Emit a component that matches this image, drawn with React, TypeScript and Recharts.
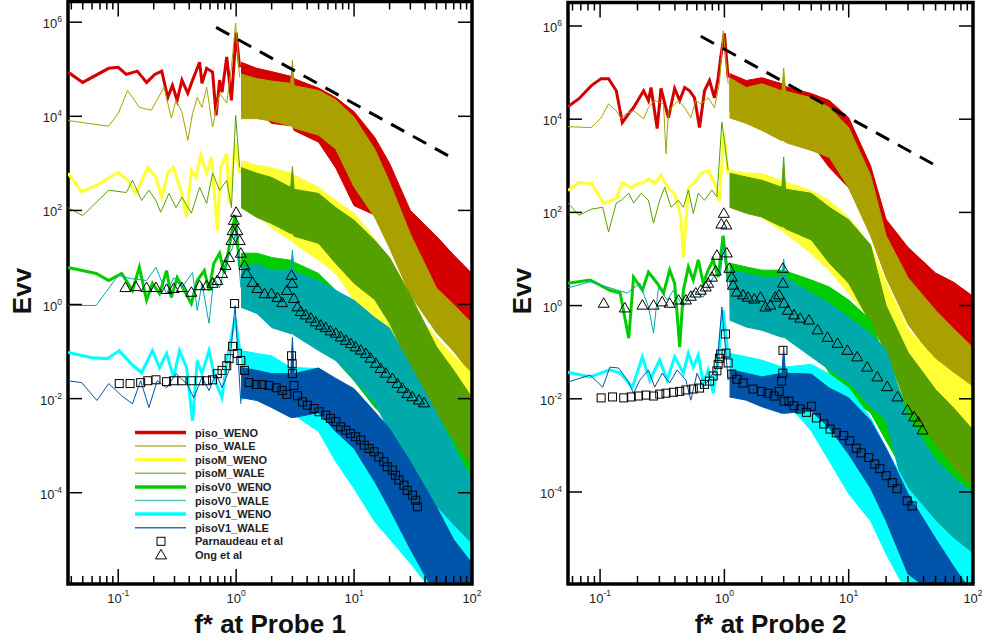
import React from 'react';
import { ComposedChart, XAxis, YAxis, Line, Area, Scatter, ReferenceArea, Legend } from 'recharts';

const FONT = "'Liberation Sans', Arial, Helvetica, sans-serif";

// ---------------- categories / labels ----------------
const seriesNames = ['piso_WENO', 'piso_WALE', 'pisoM_WENO', 'pisoM_WALE', 'pisoV0_WENO', 'pisoV0_WALE', 'pisoV1_WENO', 'pisoV1_WALE'];
const markerNames = ['Parnaudeau et al', 'Ong et al'];
const xTitles = ['f* at Probe 1', 'f* at Probe 2'];
const yTitle = 'Evv';
const xTickValues = [0.04, 0.05, 0.06, 0.07, 0.08, 0.09, 0.1, 0.2, 0.3, 0.4, 0.5, 0.6, 0.7, 0.8, 0.9, 1, 2, 3, 4, 5, 6, 7, 8, 9, 10, 20, 30, 40, 50, 60, 70, 80, 90, 100];
const yTickValues = [1e-4, 1e-2, 1, 1e2, 1e4, 1e6];
// frequencies at which the dense high-frequency envelopes were read
const bandFreq = [1.1, 1.5, 2, 2.9, 3, 3.1, 5, 7, 10, 15, 20, 30, 50, 70, 100];

// ---------------- styles ----------------
const seriesColors = ['#d40000', '#aaa000', '#ffff33', '#55a000', '#00cc00', '#00aaaa', '#00ffff', '#0055aa'];
const seriesWidths = [3, 1, 3, 1, 3, 1, 3, 1];
const legendColors = ['#d40000', '#bdb43a', '#ffff33', '#86c24e', '#00cc00', '#5cc6c6', '#00ffff', '#2f6fb8'];

type Pair = [number, number];
// all values below: [f*, log10(Evv)]

// ================= Probe 1 =================
const p1PisoWenoLow: Pair[] = [[0.0375, 4.94], [0.05, 4.72], [0.083, 5.02], [0.1, 5.04], [0.117, 4.89], [0.145, 4.96], [0.174, 4.72], [0.204, 4.89], [0.234, 4.96], [0.263, 4.4], [0.288, 4.66], [0.316, 4.34], [0.347, 4.77], [0.389, 4.49], [0.427, 4.77], [0.49, 5.15], [0.513, 4.7], [0.562, 5.02], [0.631, 4.94], [0.676, 4.02], [0.724, 4.77], [0.759, 4.51], [0.832, 5.26], [0.912, 4.34], [1.0, 5.78], [1.07, 5.04]];
const p1PisoWaleLow: Pair[] = [[0.0375, 3.91], [0.083, 3.79], [0.1, 4.06], [0.12, 4.55], [0.151, 4.19], [0.191, 4.13], [0.245, 4.62], [0.282, 3.96], [0.309, 4.34], [0.347, 4.09], [0.389, 3.49], [0.427, 4.06], [0.468, 4.4], [0.513, 4.19], [0.562, 4.62], [0.631, 3.77], [0.724, 4.49], [0.832, 4.28], [0.912, 5.04], [0.99, 5.98], [1.07, 4.83]];
const p1PisoMWenoLow: Pair[] = [[0.0375, 2.79], [0.049, 2.4], [0.065, 2.53], [0.1, 2.81], [0.12, 2.64], [0.141, 2.36], [0.178, 2.91], [0.209, 2.7], [0.234, 2.28], [0.263, 2.79], [0.295, 2.91], [0.339, 2.43], [0.38, 1.85], [0.417, 2.85], [0.457, 2.7], [0.501, 3.17], [0.562, 2.79], [0.617, 3.13], [0.692, 1.57], [0.741, 2.91], [0.832, 3.21], [0.871, 2.15], [0.98, 3.43], [1.07, 2.79]];
const p1PisoMWaleLow: Pair[] = [[0.0375, 2.06], [0.05, 1.89], [0.083, 2.43], [0.117, 2.38], [0.132, 2.64], [0.158, 2.21], [0.182, 2.43], [0.209, 2.21], [0.229, 1.96], [0.269, 2.36], [0.309, 2.06], [0.347, 2.28], [0.417, 1.94], [0.49, 2.49], [0.562, 2.15], [0.631, 2.79], [0.724, 2.43], [0.832, 2.64], [0.912, 2.06], [0.99, 4.02], [1.07, 2.91]];
const p1PisoV0WenoLow: Pair[] = [[0.0375, 0.79], [0.065, 0.66], [0.083, 0.51], [0.107, 0.66], [0.132, 0.3], [0.151, 0.79], [0.174, 0.09], [0.195, 0.45], [0.224, 0.23], [0.257, 0.72], [0.282, 0.15], [0.316, 0.57], [0.363, 0.3], [0.417, 0.02], [0.468, 0.51], [0.537, 0.72], [0.589, 0.3], [0.646, 0.87], [0.724, 1.09], [0.794, 0.66], [0.871, 1.21], [0.98, 1.9], [1.07, 0.79]];
const p1PisoV0WaleLow: Pair[] = [[0.0375, -0.02], [0.065, -0.02], [0.1, 0.62], [0.129, 0.55], [0.174, 0.51], [0.209, 0.79], [0.257, 0.23], [0.295, 0.57], [0.347, 0.36], [0.427, 0.68], [0.468, -0.13], [0.513, 0.45], [0.589, -0.4], [0.646, 0.57], [0.724, 0.36], [0.832, 0.94], [0.933, 1.21], [1.0, 1.6], [1.096, 0.36]];
const p1PisoV1WenoLow: Pair[] = [[0.0375, -1.02], [0.06, -1.13], [0.081, -1.15], [0.102, -0.98], [0.129, -1.26], [0.158, -1.45], [0.195, -0.98], [0.224, -1.34], [0.257, -1.04], [0.295, -1.55], [0.331, -0.98], [0.38, -1.34], [0.427, -2.47], [0.468, -1.19], [0.513, -1.47], [0.589, -0.98], [0.676, -1.68], [0.759, -1.98], [0.832, -1.19], [0.98, -0.28], [1.096, -1.13]];
const p1PisoV1WaleLow: Pair[] = [[0.0375, -1.62], [0.049, -1.66], [0.066, -2.04], [0.083, -1.68], [0.107, -1.94], [0.132, -2.11], [0.155, -1.62], [0.182, -2.19], [0.214, -1.62], [0.257, -1.77], [0.309, -1.47], [0.38, -1.68], [0.437, -1.98], [0.513, -1.55], [0.589, -1.83], [0.676, -1.47], [0.759, -1.77], [0.871, -1.4], [0.98, -0.02], [1.096, -2.11]];

// envelopes (log10 lower / upper) on bandFreq
const p1PisoWenoHi = [5.15, 5.02, 4.95, 4.85, 4.9, 4.8, 4.6, 4.4, 4.1, 3.55, 3.0, 2.0, 1.45, 1.05, 0.66];
const p1PisoWenoLo = [4.1, 4.1, 3.85, 3.8, 3.8, 3.7, 3.45, 2.9, 2.1, 1.9, 1.5, 0.8, 0.1, -0.2, -0.5];
const p1PisoWaleHi = [4.9, 4.8, 4.75, 4.7, 5.19, 4.65, 4.55, 4.35, 3.98, 3.3, 2.6, 1.5, 0.35, 0.0, -0.4];
const p1PisoWaleLo = [3.95, 3.95, 3.9, 3.8, 3.8, 3.75, 3.6, 3.3, 2.5, 1.85, 1.2, 0.2, -0.6, -1.0, -1.5];
const p1PisoMWenoHi = [3.06, 2.96, 2.91, 2.79, 2.79, 2.75, 2.49, 2.21, 1.94, 1.4, 0.9, -0.05, -0.7, -1.1, -1.46];
const p1PisoMWenoLo = [2.06, 1.94, 1.64, 1.36, 1.36, 1.3, 0.94, 0.66, 0.1, -0.35, -0.6, -1.2, -1.6, -1.8, -2.0];
const p1PisoMWaleHi = [2.91, 2.79, 2.7, 2.49, 2.93, 2.45, 2.36, 2.06, 1.79, 1.36, 1.0, 0.2, -0.9, -1.4, -1.98];
const p1PisoMWaleLo = [2.06, 1.85, 1.72, 1.51, 1.51, 1.45, 1.3, 0.87, 0.45, 0.1, -0.4, -1.34, -2.47, -3.0, -3.5];
const p1PisoV0WenoHi = [1.09, 1.09, 1.0, 0.94, 0.94, 0.9, 0.66, 0.3, -0.06, -0.49, -0.77, -1.62, -2.3, -2.9, -3.47];
const p1PisoV0WenoLo = [0.23, 0.09, -0.17, -0.19, -0.19, -0.25, -0.77, -1.19, -1.62, -2.19, -2.47, -3.5, -3.6, -3.7, -3.8];
const p1PisoV0WaleHi = [0.79, 0.87, 0.72, 0.72, 1.16, 0.7, 0.51, 0.3, 0.09, -0.28, -0.5, -1.3, -2.3, -3.0, -3.74];
const p1PisoV0WaleLo = [-0.06, -0.19, -0.49, -0.62, -0.62, -0.65, -0.98, -1.19, -1.6, -2.1, -2.7, -4.0, -4.6, -5.0, -5.45];
const p1PisoV1WenoHi = [-0.98, -1.04, -1.09, -1.34, -1.34, -1.34, -1.36, -1.7, -2.21, -2.64, -3.06, -3.5, -4.3, -4.7, -5.1];
const p1PisoV1WenoLo = [-2.04, -1.83, -1.98, -2.32, -2.32, -2.35, -2.7, -3.34, -3.91, -4.62, -4.98, -5.5, -6.2, -6.2, -6.2];
const p1PisoV1WaleHi = [-1.34, -1.4, -1.47, -1.47, -0.7, -1.47, -1.35, -1.57, -1.79, -2.28, -2.64, -3.34, -4.3, -5.0, -5.5];
const p1PisoV1WaleLo = [-1.98, -2.04, -2.19, -2.4, -2.4, -2.4, -2.3, -2.7, -3.06, -3.77, -4.34, -5.2, -6.2, -6.2, -6.2];

const p1Parnaudeau: Pair[] = [[0.102, -1.68], [0.126, -1.68], [0.155, -1.66], [0.178, -1.62], [0.209, -1.6], [0.257, -1.64], [0.295, -1.62], [0.347, -1.62], [0.417, -1.62], [0.49, -1.62], [0.562, -1.62], [0.631, -1.6], [0.692, -1.47], [0.759, -1.4], [0.832, -1.3], [0.871, -1.15], [0.933, -0.89], [0.97, 0.02], [1.023, -1.04], [1.096, -1.19], [1.175, -1.4], [1.288, -1.66], [1.479, -1.7], [1.66, -1.7], [1.905, -1.72], [2.188, -1.77], [2.455, -1.83], [2.692, -1.91], [2.951, -1.09], [2.985, -1.26], [3.0, -1.47], [3.09, -1.72], [3.311, -1.94], [3.65, -2.07], [4.02, -2.14], [4.57, -2.21], [5.05, -2.28], [5.75, -2.35], [6.31, -2.42], [7.0, -2.49], [7.71, -2.6], [8.51, -2.67], [9.33, -2.74], [10.3, -2.81], [11.4, -2.88], [12.2, -2.99], [13.4, -3.06], [14.8, -3.13], [16.2, -3.24], [17.9, -3.34], [19.1, -3.45], [21.1, -3.52], [22.5, -3.63], [24.0, -3.73], [26.5, -3.84], [28.2, -3.95], [31.2, -4.05], [33.3, -4.16], [34.4, -4.3]];
const p1Ong: Pair[] = [[0.115, 0.36], [0.141, 0.38], [0.174, 0.36], [0.209, 0.36], [0.257, 0.32], [0.295, 0.34], [0.347, 0.36], [0.417, 0.26], [0.49, 0.4], [0.562, 0.4], [0.631, 0.45], [0.692, 0.51], [0.759, 0.66], [0.813, 0.83], [0.871, 1.0], [0.912, 1.36], [0.933, 1.57], [0.955, 1.79], [1.0, 1.96], [1.023, 1.57], [1.072, 1.36], [1.096, 1.09], [1.175, 0.83], [1.23, 0.66], [1.38, 0.47], [1.514, 0.34], [1.738, 0.23], [1.995, 0.23], [2.239, 0.15], [2.455, 0.04], [2.692, 0.3], [2.951, 0.62], [2.985, 0.45], [3.09, 0.13], [3.31, -0.05], [3.53, -0.15], [3.89, -0.22], [4.3, -0.29], [4.73, -0.37], [5.22, -0.44], [5.75, -0.49], [6.31, -0.56], [7.0, -0.61], [7.71, -0.69], [8.51, -0.76], [9.38, -0.83], [10.3, -0.9], [11.4, -0.97], [12.6, -1.04], [13.8, -1.14], [15.3, -1.25], [16.8, -1.36], [18.6, -1.46], [21.1, -1.57], [23.3, -1.68], [25.7, -1.78], [28.3, -1.89], [31.2, -1.96], [35.5, -2.03], [39.2, -2.09]];
const p1Slope: Pair[] = [[0.676, 5.89], [72, 3.08]];

// ================= Probe 2 =================
const p2PisoWenoLow: Pair[] = [[0.0552, 4.27], [0.0676, 4.44], [0.0851, 4.72], [0.102, 4.87], [0.117, 4.87], [0.135, 4.61], [0.151, 3.93], [0.17, 4.12], [0.186, 4.25], [0.224, 4.61], [0.245, 4.4], [0.257, 4.68], [0.288, 3.8], [0.309, 4.66], [0.339, 4.23], [0.355, 4.03], [0.398, 4.66], [0.437, 4.4], [0.479, 4.68], [0.525, 4.61], [0.575, 4.46], [0.631, 3.82], [0.692, 4.61], [0.759, 4.83], [0.832, 4.46], [0.891, 4.89], [0.933, 5.32], [1.0, 5.84], [1.072, 4.89]];
const p2PisoWaleLow: Pair[] = [[0.0552, 3.84], [0.0851, 3.82], [0.102, 4.03], [0.117, 4.33], [0.135, 4.18], [0.148, 4.01], [0.162, 4.12], [0.186, 4.18], [0.224, 4.01], [0.245, 4.25], [0.275, 4.4], [0.324, 4.33], [0.339, 3.26], [0.355, 4.18], [0.427, 4.4], [0.479, 4.25], [0.537, 4.03], [0.589, 4.4], [0.646, 4.33], [0.741, 4.46], [0.832, 4.25], [0.912, 4.76], [0.98, 5.9], [1.072, 4.76]];
const p2PisoMWenoLow: Pair[] = [[0.0552, 2.47], [0.0676, 2.64], [0.0851, 2.62], [0.107, 2.19], [0.135, 2.3], [0.151, 2.64], [0.178, 2.53], [0.204, 2.62], [0.224, 2.64], [0.245, 2.72], [0.275, 2.62], [0.309, 2.79], [0.355, 2.51], [0.398, 2.4], [0.447, 1.89], [0.468, 1.03], [0.513, 2.53], [0.575, 2.64], [0.646, 2.83], [0.741, 2.9], [0.832, 2.64], [0.912, 2.25], [0.99, 3.69], [1.072, 2.83]];
const p2PisoMWaleLow: Pair[] = [[0.0552, 2.2], [0.0676, 1.94], [0.0851, 2.07], [0.105, 2.11], [0.117, 1.58], [0.135, 2.2], [0.148, 2.26], [0.17, 2.41], [0.186, 2.2], [0.214, 2.41], [0.245, 2.26], [0.269, 1.77], [0.302, 2.26], [0.331, 2.54], [0.372, 2.11], [0.427, 2.26], [0.468, 2.11], [0.513, 2.48], [0.562, 1.98], [0.617, 2.41], [0.692, 2.26], [0.794, 2.48], [0.871, 2.33], [0.955, 3.94], [1.072, 2.91]];
const p2PisoV0WenoLow: Pair[] = [[0.0552, 0.48], [0.0832, 0.55], [0.12, 0.33], [0.145, 0.27], [0.17, -0.7], [0.186, 0.61], [0.219, 0.33], [0.245, 0.72], [0.288, 0.48], [0.324, 0.27], [0.363, 0.76], [0.398, 0.48], [0.437, -0.89], [0.468, 0.33], [0.513, 0.83], [0.562, 0.55], [0.617, 0.98], [0.676, 0.48], [0.741, 0.76], [0.813, 0.98], [0.891, 0.61], [0.977, 1.5], [1.072, 0.55]];
const p2PisoV0WaleLow: Pair[] = [[0.0552, 0.38], [0.0832, 0.51], [0.12, 0.38], [0.166, 0.27], [0.209, 0.48], [0.245, -0.03], [0.269, -0.59], [0.295, 0.4], [0.347, 0.12], [0.389, 0.33], [0.468, -0.03], [0.562, 0.33], [0.676, 0.18], [0.813, 0.61], [0.933, 0.69], [0.977, 1.34], [1.072, 0.33]];
const p2PisoV1WenoLow: Pair[] = [[0.0552, -1.43], [0.0832, -1.53], [0.12, -1.38], [0.145, -1.45], [0.182, -1.75], [0.219, -1.1], [0.251, -1.6], [0.302, -1.17], [0.347, -1.6], [0.398, -1.1], [0.468, -1.45], [0.513, -1.02], [0.562, -1.32], [0.617, -1.06], [0.676, -1.66], [0.741, -1.38], [0.813, -1.88], [0.891, -1.17], [0.977, -0.1], [1.072, -1.1]];
const p2PisoV1WaleLow: Pair[] = [[0.0552, -1.64], [0.0832, -1.49], [0.105, -1.75], [0.12, -1.32], [0.141, -1.34], [0.166, -1.6], [0.186, -1.88], [0.209, -1.6], [0.245, -1.38], [0.275, -1.75], [0.316, -1.45], [0.363, -1.66], [0.417, -1.38], [0.49, -1.6], [0.537, -2.03], [0.603, -1.45], [0.676, -1.75], [0.776, -1.53], [0.871, -1.32], [0.955, -0.03], [1.072, -1.6]];

const p2PisoWenoHi = [4.98, 4.83, 4.89, 4.76, 4.8, 4.7, 4.55, 4.4, 4.03, 3.0, 1.85, 1.25, 0.7, 0.5, 0.2];
const p2PisoWenoLo = [4.18, 4.18, 3.91, 3.82, 3.82, 3.8, 3.48, 2.96, 2.53, 1.6, 0.9, 0.4, -0.3, -0.6, -0.95];
const p2PisoWaleHi = [4.89, 4.68, 4.76, 4.61, 5.1, 4.6, 4.46, 4.25, 3.82, 2.8, 1.5, 0.6, -0.1, -0.5, -0.9];
const p2PisoWaleLo = [4.03, 3.91, 3.76, 3.54, 3.54, 3.5, 3.33, 3.18, 2.53, 1.5, 0.6, -0.4, -1.2, -1.6, -1.95];
const p2PisoMWenoHi = [2.9, 2.85, 2.83, 2.68, 2.68, 2.65, 2.47, 2.25, 1.89, 1.3, 0.5, -0.5, -1.15, -1.45, -1.75];
const p2PisoMWenoLo = [2.25, 2.1, 1.89, 1.61, 1.61, 1.55, 1.12, 0.75, 0.26, -0.3, -0.7, -1.4, -2.0, -2.4, -2.7];
const p2PisoMWaleHi = [2.84, 2.76, 2.69, 2.54, 3.19, 2.5, 2.41, 2.11, 1.84, 1.3, 0.0, -1.0, -1.8, -2.2, -2.67];
const p2PisoMWaleLo = [2.11, 1.98, 1.9, 1.69, 1.69, 1.65, 1.41, 0.91, 0.48, -0.38, -1.0, -2.2, -3.2, -3.6, -3.9];
const p2PisoV0WenoHi = [0.91, 0.83, 0.76, 0.76, 0.76, 0.74, 0.55, 0.4, 0.12, -0.31, -1.2, -2.2, -3.0, -3.5, -3.92];
const p2PisoV0WenoLo = [-0.03, -0.16, -0.38, -0.46, -0.46, -0.5, -0.8, -1.45, -1.96, -2.3, -2.9, -3.7, -4.4, -4.7, -5.0];
const p2PisoV0WaleHi = [0.76, 0.69, 0.61, 0.61, 1.0, 0.6, 0.27, 0.05, -0.25, -0.59, -0.95, -2.4, -3.3, -3.7, -4.0];
const p2PisoV0WaleLo = [-0.31, -0.46, -0.53, -0.68, -0.68, -0.7, -1.1, -1.38, -1.66, -2.17, -2.46, -4.3, -4.97, -5.2, -5.33];
const p2PisoV1WenoHi = [-1.02, -1.1, -1.17, -1.32, -1.32, -1.32, -1.26, -1.47, -1.77, -2.41, -3.06, -3.92, -4.62, -5.0, -5.33];
const p2PisoV1WenoLo = [-1.6, -1.75, -1.88, -2.03, -2.03, -2.05, -2.69, -3.34, -4.04, -4.62, -5.33, -6.2, -6.2, -6.2, -6.2];
const p2PisoV1WaleHi = [-1.38, -1.45, -1.53, -1.45, -0.89, -1.45, -1.47, -1.77, -1.98, -2.47, -3.06, -4.04, -5.0, -5.6, -6.2];
const p2PisoV1WaleLo = [-1.96, -2.03, -2.17, -2.31, -2.31, -2.31, -2.26, -2.63, -3.19, -3.92, -4.62, -5.76, -6.2, -6.2, -6.2];

const p2Parnaudeau: Pair[] = [[0.102, -1.98], [0.126, -1.96], [0.155, -1.98], [0.178, -1.96], [0.204, -1.94], [0.234, -1.92], [0.269, -1.94], [0.302, -1.9], [0.339, -1.88], [0.389, -1.86], [0.437, -1.84], [0.49, -1.81], [0.562, -1.79], [0.631, -1.77], [0.692, -1.69], [0.759, -1.62], [0.813, -1.51], [0.871, -1.4], [0.891, -1.26], [0.912, -1.13], [0.933, -1.04], [1.02, -0.61], [1.03, -1.02], [1.072, -1.23], [1.148, -1.47], [1.259, -1.58], [1.413, -1.66], [1.698, -1.79], [1.995, -1.84], [2.239, -1.88], [2.512, -1.94], [2.754, -1.84], [2.884, -1.62], [2.951, -1.45], [2.96, -0.96], [3.02, -2.05], [3.31, -2.05], [3.63, -2.15], [4.07, -2.22], [4.57, -2.29], [5.01, -2.16], [5.5, -2.41], [6.31, -2.54], [7.08, -2.65], [7.94, -2.73], [9.12, -2.79], [10.2, -2.9], [11.5, -3.06], [12.6, -3.16], [14.5, -3.26], [16.2, -3.4], [17.8, -3.5], [20.0, -3.65], [22.4, -3.8], [24.5, -3.93], [29.5, -4.19], [32.4, -4.3]];
const p2Ong: Pair[] = [[0.107, 0.05], [0.158, -0.05], [0.219, 0.01], [0.269, 0.01], [0.316, 0.08], [0.363, 0.05], [0.427, 0.12], [0.49, 0.12], [0.537, 0.2], [0.589, 0.27], [0.646, 0.33], [0.708, 0.4], [0.741, 0.48], [0.794, 0.61], [0.851, 0.74], [0.871, 1.08], [0.945, 1.75], [0.99, 1.98], [1.037, 1.73], [1.047, 1.13], [1.096, 0.8], [1.148, 0.61], [1.175, 0.44], [1.259, 0.29], [1.413, 0.23], [1.549, 0.18], [1.738, 0.14], [1.95, 0.18], [2.138, -0.03], [2.344, 0.01], [2.57, 0.18], [2.754, 0.23], [2.951, 0.8], [2.96, 0.48], [3.02, 0.05], [3.236, -0.1], [3.63, -0.2], [4.07, -0.27], [4.79, -0.31], [5.62, -0.52], [6.76, -0.68], [8.13, -0.81], [9.77, -0.96], [11.7, -1.1], [14.1, -1.32], [17.0, -1.53], [20.4, -1.74], [24.7, -1.96], [29.7, -2.24], [33.6, -2.39], [36.3, -2.5], [39.3, -2.67]];
const p2Slope: Pair[] = [[0.646, 5.78], [53, 2.97]];

// ---------------- helpers ----------------
const toPts = (pairs: Pair[]) => pairs.map(([f, e]) => ({ f, v: Math.pow(10, e) }));

function buildBands(los: number[][], his: number[][]) {
  return bandFreq.map((f, i) => {
    const row: Record<string, any> = { f };
    los.forEach((lo, k) => {
      row['b' + k] = [Math.pow(10, lo[i]), Math.pow(10, his[k][i])];
    });
    return row;
  });
}

type PanelCfg = {
  left: number;
  yAxisWidth: number;
  marginRight: number;
  plotTop: number;
  plotBottom: number;
  plotLeft: number;
  plotRight: number;
  xMin: number;
  yMinExp: number;
  yMaxExp: number;
  title: string;
  low: Pair[][];
  lo: number[][];
  hi: number[][];
  squares: Pair[];
  triangles: Pair[];
  slope: Pair[];
  legend: boolean;
};

const panels: PanelCfg[] = [
  {
    left: 0, yAxisWidth: 68, marginRight: 19, plotTop: 1.5, plotBottom: 584, plotLeft: 68, plotRight: 472,
    xMin: 0.0375, yMinExp: -5.94, yMaxExp: 6.44, title: xTitles[0],
    low: [p1PisoWenoLow, p1PisoWaleLow, p1PisoMWenoLow, p1PisoMWaleLow, p1PisoV0WenoLow, p1PisoV0WaleLow, p1PisoV1WenoLow, p1PisoV1WaleLow],
    lo: [p1PisoWenoLo, p1PisoWaleLo, p1PisoMWenoLo, p1PisoMWaleLo, p1PisoV0WenoLo, p1PisoV0WaleLo, p1PisoV1WenoLo, p1PisoV1WaleLo],
    hi: [p1PisoWenoHi, p1PisoWaleHi, p1PisoMWenoHi, p1PisoMWaleHi, p1PisoV0WenoHi, p1PisoV0WaleHi, p1PisoV1WenoHi, p1PisoV1WaleHi],
    squares: p1Parnaudeau, triangles: p1Ong, slope: p1Slope, legend: true,
  },
  {
    left: 491, yAxisWidth: 77, marginRight: 9, plotTop: 2.5, plotBottom: 584, plotLeft: 77, plotRight: 482,
    xMin: 0.0552, yMinExp: -5.974, yMaxExp: 6.504, title: xTitles[1],
    low: [p2PisoWenoLow, p2PisoWaleLow, p2PisoMWenoLow, p2PisoMWaleLow, p2PisoV0WenoLow, p2PisoV0WaleLow, p2PisoV1WenoLow, p2PisoV1WaleLow],
    lo: [p2PisoWenoLo, p2PisoWaleLo, p2PisoMWenoLo, p2PisoMWaleLo, p2PisoV0WenoLo, p2PisoV0WaleLo, p2PisoV1WenoLo, p2PisoV1WaleLo],
    hi: [p2PisoWenoHi, p2PisoWaleHi, p2PisoMWenoHi, p2PisoMWaleHi, p2PisoV0WenoHi, p2PisoV0WaleHi, p2PisoV1WenoHi, p2PisoV1WaleHi],
    squares: p2Parnaudeau, triangles: p2Ong, slope: p2Slope, legend: false,
  },
];

const SquareShape = (p: any) => (
  <rect x={p.cx - 4} y={p.cy - 4} width={8} height={8} fill="none" stroke="#000" strokeWidth={1} />
);
const TriangleShape = (p: any) => (
  <path d={`M${p.cx},${p.cy - 5.5} L${p.cx + 5.5},${p.cy + 4} L${p.cx - 5.5},${p.cy + 4} Z`} fill="none" stroke="#000" strokeWidth={1} />
);

const renderLegend = () => (
  <svg width={170} height={142} style={{ display: 'block', overflow: 'visible' }}>
    {seriesNames.map((name, i) => {
      const y = 7.5 + 13.6 * i;
      return (
        <g key={name}>
          <line x1={7} x2={58} y1={y} y2={y} stroke={legendColors[i]} strokeWidth={seriesWidths[i] === 3 ? 3.5 : 1.5} />
          <text x={67} y={y + 4} fontFamily={FONT} fontWeight="bold" fontSize={11} fill="#222">{name}</text>
        </g>
      );
    })}
    {markerNames.map((name, j) => {
      const y = 7.5 + 13.6 * (8 + j);
      return (
        <g key={name}>
          {j === 0 ? SquareShape({ cx: 33, cy: y }) : TriangleShape({ cx: 33, cy: y })}
          <text x={67} y={y + 4} fontFamily={FONT} fontWeight="bold" fontSize={11} fill="#222">{name}</text>
        </g>
      );
    })}
  </svg>
);

function Panel({ cfg }: { cfg: PanelCfg }) {
  const rows = buildBands(cfg.lo, cfg.hi);
  const ticks = xTickValues.filter((v) => v >= cfg.xMin * 0.999 && v <= 100.0001);
  const yMin = Math.pow(10, cfg.yMinExp);
  const yMax = Math.pow(10, cfg.yMaxExp);

  const XTick = (p: any) => {
    const v = p.payload.value;
    const lg = Math.log10(v);
    const major = Math.abs(lg - Math.round(lg)) < 1e-6;
    const len = major ? 15 : 8;
    const x = p.x;
    return (
      <g>
        <line x1={x} x2={x} y1={cfg.plotBottom} y2={cfg.plotBottom - len} stroke="#000" strokeWidth={1.5} />
        <line x1={x} x2={x} y1={cfg.plotTop} y2={cfg.plotTop + len} stroke="#000" strokeWidth={1.5} />
        {major ? (
          <text x={x} y={cfg.plotBottom + 19} textAnchor="middle" fontFamily={FONT} fontSize={13} fill="#222">
            10<tspan dy={-7} fontSize={8.5}>{String(Math.round(lg))}</tspan>
          </text>
        ) : null}
      </g>
    );
  };

  const YTick = (p: any) => {
    const v = p.payload.value;
    const y = p.y;
    return (
      <g>
        <line x1={cfg.plotLeft} x2={cfg.plotLeft + 14} y1={y} y2={y} stroke="#000" strokeWidth={1.5} />
        <line x1={cfg.plotRight - 14} x2={cfg.plotRight} y1={y} y2={y} stroke="#000" strokeWidth={1.5} />
        <text x={cfg.plotLeft - 6} y={y + 6} textAnchor="end" fontFamily={FONT} fontSize={13} fill="#222">
          10<tspan dy={-6} fontSize={8.5}>{String(Math.round(Math.log10(v)))}</tspan>
        </text>
      </g>
    );
  };

  const series: React.ReactElement[] = [];
  for (let k = 0; k < seriesNames.length; k++) {
    series.push(
      <Area key={'band' + k} dataKey={'b' + k} name={seriesNames[k]} type="linear" stroke={seriesColors[k]} strokeWidth={1}
        fill={seriesColors[k]} fillOpacity={1} isAnimationActive={false} dot={false} activeDot={false} legendType="none" />
    );
    series.push(
      <Line key={'low' + k} data={toPts(cfg.low[k])} dataKey="v" name={seriesNames[k]} type="linear" stroke={seriesColors[k]}
        strokeWidth={seriesWidths[k]} dot={false} activeDot={false} isAnimationActive={false} legendType="none" />
    );
  }

  const midX = (cfg.plotLeft + cfg.plotRight) / 2;
  const midY = 291;

  return (
    <div style={{ position: 'absolute', left: cfg.left, top: 0, width: 491, height: 642 }}>
      <ComposedChart width={491} height={642} data={rows}
        margin={{ top: cfg.plotTop, right: cfg.marginRight, bottom: 0, left: 0 }}>
        <XAxis dataKey="f" type="number" scale="log" domain={[cfg.xMin, 100]} allowDataOverflow ticks={ticks} interval={0}
          tickLine={false} axisLine={false} height={58} tickSize={0} tickMargin={0} tick={XTick}
          label={() => (
            <text x={midX} y={cfg.plotBottom + 49} textAnchor="middle" fontFamily={FONT} fontWeight="bold" fontSize={26} fill="#111">
              {cfg.title}
            </text>
          )} />
        <YAxis type="number" scale="log" domain={[yMin, yMax]} allowDataOverflow ticks={yTickValues} interval={0}
          tickLine={false} axisLine={false} width={cfg.yAxisWidth} tickSize={0} tickMargin={0} tick={YTick}
          label={() => (
            <text x={cfg.plotLeft - 37} y={midY} transform={`rotate(-90 ${cfg.plotLeft - 37} ${midY})`} textAnchor="middle"
              fontFamily={FONT} fontWeight="bold" fontSize={26} fill="#111">
              {yTitle}
            </text>
          )} />
        {series}
        <Line data={toPts(cfg.slope)} dataKey="v" type="linear" stroke="#000" strokeWidth={3} strokeDasharray="15 10"
          dot={false} activeDot={false} isAnimationActive={false} legendType="none" />
        <Scatter data={toPts(cfg.squares)} dataKey="v" name={markerNames[0]} shape={SquareShape} isAnimationActive={false} legendType="none" />
        <Scatter data={toPts(cfg.triangles)} dataKey="v" name={markerNames[1]} shape={TriangleShape} isAnimationActive={false} legendType="none" />
        <ReferenceArea x1={cfg.xMin} x2={100} y1={yMin} y2={yMax} fill="none" stroke="#000" strokeWidth={3.5} ifOverflow="visible" />
        {cfg.legend ? (
          <Legend content={renderLegend} layout="horizontal" verticalAlign="middle" align="center"
            wrapperStyle={{ left: 128, top: 425, width: 170, height: 142 }} />
        ) : null}
      </ComposedChart>
    </div>
  );
}

export default function App() {
  return (
    <div style={{ position: 'absolute', left: 0, top: 0, width: 982, height: 642, background: '#fff', overflow: 'hidden' }}>
      {panels.map((cfg, i) => (
        <Panel key={i} cfg={cfg} />
      ))}
    </div>
  );
}
